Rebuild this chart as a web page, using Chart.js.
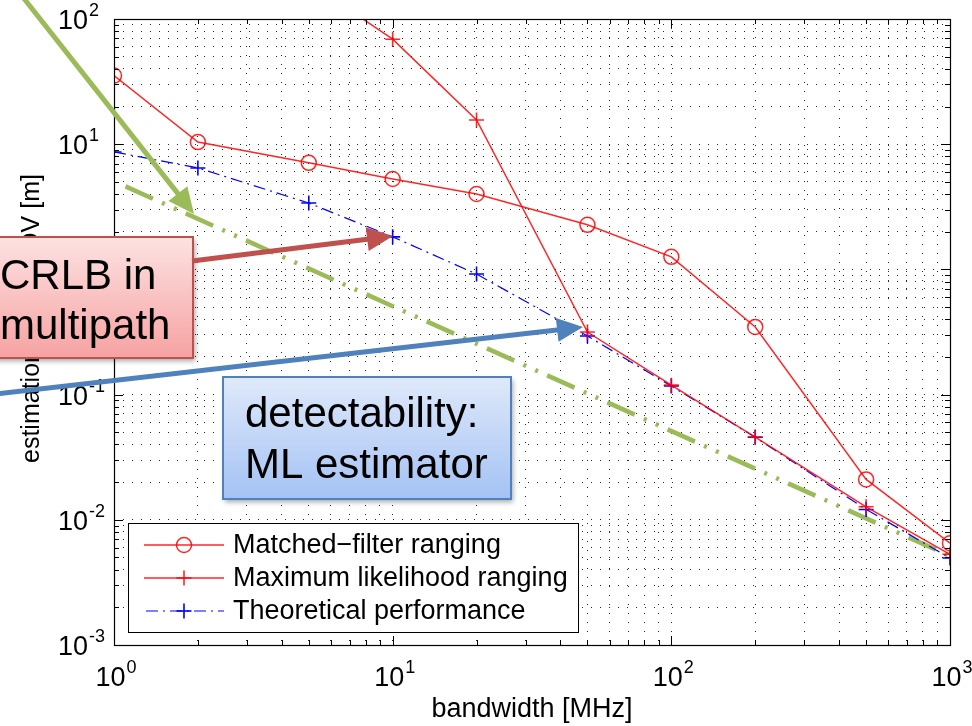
<!DOCTYPE html>
<html>
<head>
<meta charset="utf-8">
<script src="https://cdn.jsdelivr.net/npm/chart.js@4.4.1/dist/chart.umd.min.js"></script>
<style>
  html, body { margin: 0; padding: 0; background: #fff; }
  #wrap { width: 972px; height: 726px; position: relative; overflow: hidden; }
</style>
</head>
<body>
<div id="wrap"><canvas id="chart" width="972" height="726"></canvas></div>
<script>
// values
const bandwidth = [1, 2, 5, 10, 20, 50, 100, 200, 500, 1000];
const matchedFilter = [35.3, 10.4, 7.1, 5.27, 4.0, 2.27, 1.26, 0.347, 0.021, 0.0065];
const mlBandwidth = [5, 10, 20, 50, 100, 200, 500, 1000];
const maxLikelihood = [196, 69, 15.6, 0.316, 0.119, 0.0458, 0.0127, 0.0053];
const theoretical = [8.67, 6.46, 3.39, 1.82, 0.918, 0.294, 0.117, 0.0456, 0.0121, 0.00495];
const crlbBandwidth = [1.1, 1000];
const crlbMultipath = [4.6, 0.00514];

const xTickExp = [0, 1, 2, 3];
const yTickExp = [-3, -2, -1, 0, 1, 2];
const seriesNames = ["Matched\u2212filter ranging", "Maximum likelihood ranging", "Theoretical performance"];
const xTitle = "bandwidth [MHz]";
const yTitle = "estimation error STDV [m]";
const noteRed = ["CRLB in", "multipath"];
const noteBlue = ["detectability:", "ML estimator"];

const FONT = "'Liberation Sans', Arial, Helvetica, sans-serif";
const RED = "rgba(255,0,0,0.85)";
const BLUE = "#0000ff";
const GREEN = "#9bbb59";

// grid positions 1..9 x 10^e, like the minor grid of the original
function logGrid(e0, e1) {
  const out = [];
  for (let e = e0; e < e1; e++) {
    for (let s = 1; s <= 9; s++) out.push(Number((s * Math.pow(10, e)).toPrecision(6)));
  }
  out.push(Math.pow(10, e1));
  return out;
}
const xGrid = logGrid(xTickExp[0], xTickExp[xTickExp.length - 1]);
const yGrid = logGrid(yTickExp[0], yTickExp[yTickExp.length - 1]);
const isPow = v => Math.abs(Math.log10(v) - Math.round(Math.log10(v))) < 1e-9;

const pts = (xs, ys) => xs.map((x, i) => ({ x: x, y: ys[i] }));

function line(ctx, x1, y1, x2, y2) {
  ctx.beginPath(); ctx.moveTo(x1, y1); ctx.lineTo(x2, y2); ctx.stroke();
}

function powLabel(ctx, exp, x, y, mode) {
  const base = "10";
  const sup = exp < 0 ? "-" + Math.abs(exp) : String(exp);
  ctx.font = "27px " + FONT;
  const wb = ctx.measureText(base).width;
  ctx.font = "18px " + FONT;
  const ws = ctx.measureText(sup).width;
  let bx;
  if (mode === "left") bx = x - wb;          // base ends at x
  else bx = x - (wb + ws + 1) / 2;           // centred
  ctx.textAlign = "left";
  ctx.textBaseline = "alphabetic";
  ctx.font = "27px " + FONT;
  ctx.fillText(base, bx, y);
  ctx.font = "18px " + FONT;
  ctx.fillText(sup, bx + wb + 1, y - 13);
}

// axes box, inner ticks, tick labels, titles and legend
const matlabAxes = {
  id: "matlabAxes",
  afterDatasetsDraw(chart) {
    const { ctx, chartArea: a, scales } = chart;
    const sx = scales.x, sy = scales.y;
    ctx.save();
    ctx.strokeStyle = "#000";
    ctx.fillStyle = "#000";
    ctx.lineWidth = 1;
    xGrid.forEach(v => {
      const px = Math.round(sx.getPixelForValue(v)) + 0.5;
      const len = isPow(v) ? 9 : 5;
      line(ctx, px, a.bottom, px, a.bottom - len);
      line(ctx, px, a.top, px, a.top + len);
    });
    yGrid.forEach(v => {
      const py = Math.round(sy.getPixelForValue(v)) + 0.5;
      const len = isPow(v) ? 9 : 5;
      line(ctx, a.left, py, a.left + len, py);
      line(ctx, a.right, py, a.right - len, py);
    });
    ctx.lineWidth = 1.2;
    ctx.strokeRect(a.left + 0.5, a.top + 0.5, a.width, a.height);

    xTickExp.forEach(e => {
      powLabel(ctx, e, sx.getPixelForValue(Math.pow(10, e)) + 2, a.bottom + 41, "center");
    });
    yTickExp.forEach(e => {
      powLabel(ctx, e, 88, sy.getPixelForValue(Math.pow(10, e)) + 10, "left");
    });

    ctx.font = "27px " + FONT;
    ctx.textAlign = "center";
    ctx.textBaseline = "alphabetic";
    ctx.fillText(xTitle, 532, 717);

    ctx.save();
    ctx.translate(39, 463);
    ctx.rotate(-Math.PI / 2);
    ctx.textAlign = "left";
    ctx.font = "25px " + FONT;
    ctx.fillText(yTitle, 0, 0);
    ctx.restore();

    // legend box
    const lx = 128, ly = 523, lw = 450, lh = 109;
    ctx.fillStyle = "#fff";
    ctx.fillRect(lx, ly, lw, lh);
    ctx.lineWidth = 1;
    ctx.strokeStyle = "#000";
    ctx.strokeRect(lx + 0.5, ly + 0.5, lw, lh);
    const rows = [545, 578, 611];
    chart.data.datasets.slice(0, 3).forEach((ds, i) => {
      const yy = rows[i];
      ctx.save();
      ctx.strokeStyle = ds.borderColor;
      ctx.lineWidth = ds.borderWidth;
      ctx.setLineDash(ds.borderDash || []);
      ctx.lineDashOffset = ds.borderDash ? -2 : 0;
      line(ctx, 144, yy, 224, yy);
      ctx.setLineDash([]);
      ctx.lineWidth = ds.pointBorderWidth;
      if (ds.pointStyle === "circle") {
        ctx.beginPath(); ctx.arc(184, yy, ds.pointRadius, 0, Math.PI * 2); ctx.stroke();
      } else {
        line(ctx, 184 - ds.pointRadius, yy, 184 + ds.pointRadius, yy);
        line(ctx, 184, yy - ds.pointRadius, 184, yy + ds.pointRadius);
      }
      ctx.restore();
      ctx.fillStyle = "#000";
      ctx.font = "27px " + FONT;
      ctx.textAlign = "left";
      ctx.textBaseline = "middle";
      ctx.fillText(seriesNames[i], 233, yy + 1);
    });
    ctx.restore();
  }
};

function arrow(ctx, x1, y1, x2, y2, color, w, hl, hw) {
  const ang = Math.atan2(y2 - y1, x2 - x1);
  const bx = x2 - hl * Math.cos(ang), by = y2 - hl * Math.sin(ang);
  ctx.save();
  ctx.strokeStyle = color;
  ctx.fillStyle = color;
  ctx.lineWidth = w;
  ctx.lineCap = "butt";
  line(ctx, x1, y1, bx + 2 * Math.cos(ang), by + 2 * Math.sin(ang));
  ctx.beginPath();
  ctx.moveTo(x2, y2);
  ctx.lineTo(bx + hw / 2 * Math.sin(ang), by - hw / 2 * Math.cos(ang));
  ctx.lineTo(bx - hw / 2 * Math.sin(ang), by + hw / 2 * Math.cos(ang));
  ctx.closePath();
  ctx.fill();
  ctx.restore();
}

function noteBox(ctx, x, y, w, h, top, bottom, border, lines, tx, baselines) {
  ctx.save();
  ctx.shadowColor = "rgba(0,0,0,0.35)";
  ctx.shadowBlur = 5;
  ctx.shadowOffsetX = 2;
  ctx.shadowOffsetY = 3;
  const g = ctx.createLinearGradient(0, y, 0, y + h);
  g.addColorStop(0, top);
  g.addColorStop(1, bottom);
  ctx.fillStyle = g;
  ctx.fillRect(x, y, w, h);
  ctx.shadowColor = "transparent";
  ctx.strokeStyle = border;
  ctx.lineWidth = 2;
  ctx.strokeRect(x, y, w, h);
  ctx.fillStyle = "#000";
  ctx.font = "42px " + FONT;
  ctx.textAlign = "left";
  ctx.textBaseline = "alphabetic";
  lines.forEach((t, i) => ctx.fillText(t, tx, baselines[i]));
  ctx.restore();
}

// slide annotations drawn over the plot
const annotate = {
  id: "annotate",
  afterDraw(chart) {
    const ctx = chart.ctx;
    arrow(ctx, 22, -4, 194, 214, GREEN, 5, 26, 24);
    noteBox(ctx, -10, 237, 203, 121, "#fde2e2", "#f6a2a2", "#c0504d", noteRed, 0, [289, 339]);
    arrow(ctx, 192, 261, 393, 236, "#c0504d", 5, 26, 24);
    noteBox(ctx, 223, 377, 288, 122, "#dfe9fa", "#a4c2f4", "#4f81bd", noteBlue, 245, [427, 478]);
    arrow(ctx, -5, 394, 583, 327, "#4f81bd", 5, 26, 24);
  }
};

Chart.defaults.font.family = FONT;

new Chart(document.getElementById("chart"), {
  type: "line",
  data: {
    datasets: [
      {
        label: seriesNames[0],
        data: pts(bandwidth, matchedFilter),
        borderColor: RED, borderWidth: 1.5,
        pointStyle: "circle", pointRadius: 7.5, pointBorderWidth: 1.5,
        pointBorderColor: RED, pointBackgroundColor: "rgba(0,0,0,0)"
      },
      {
        label: seriesNames[1],
        data: pts(mlBandwidth, maxLikelihood),
        borderColor: RED, borderWidth: 1.5,
        pointStyle: "cross", pointRadius: 7.5, pointBorderWidth: 1.6,
        pointBorderColor: RED
      },
      {
        label: seriesNames[2],
        data: pts(bandwidth, theoretical),
        borderColor: BLUE, borderWidth: 1.2, borderDash: [12, 5, 2, 5],
        pointStyle: "cross", pointRadius: 7.5, pointBorderWidth: 1.6,
        pointBorderColor: BLUE
      },
      {
        label: "CRLB in multipath",
        data: pts(crlbBandwidth, crlbMultipath),
        borderColor: GREEN, borderWidth: 4.5, borderDash: [30, 10, 3, 10, 3, 10],
        pointRadius: 0
      }
    ]
  },
  options: {
    responsive: false,
    animation: false,
    layout: { padding: { left: 114, right: 22, top: 19, bottom: 81 } },
    plugins: { legend: { display: false }, tooltip: { enabled: false } },
    elements: { line: { tension: 0, fill: false } },
    scales: {
      x: {
        type: "logarithmic", min: 1, max: 1000,
        afterBuildTicks: s => { s.ticks = xGrid.map(v => ({ value: v })); },
        afterFit: s => { s.height = 0; },
        ticks: { display: false },
        grid: { color: "rgba(0,0,0,0.85)", lineWidth: 1, drawTicks: false },
        border: { display: false, dash: [1, 8] }
      },
      y: {
        type: "logarithmic", min: 0.001, max: 100,
        afterBuildTicks: s => { s.ticks = yGrid.map(v => ({ value: v })); },
        afterFit: s => { s.width = 0; },
        ticks: { display: false },
        grid: { color: "rgba(0,0,0,0.85)", lineWidth: 1, drawTicks: false },
        border: { display: false, dash: [1, 8] }
      }
    }
  },
  plugins: [matlabAxes, annotate]
});
</script>
</body>
</html>
